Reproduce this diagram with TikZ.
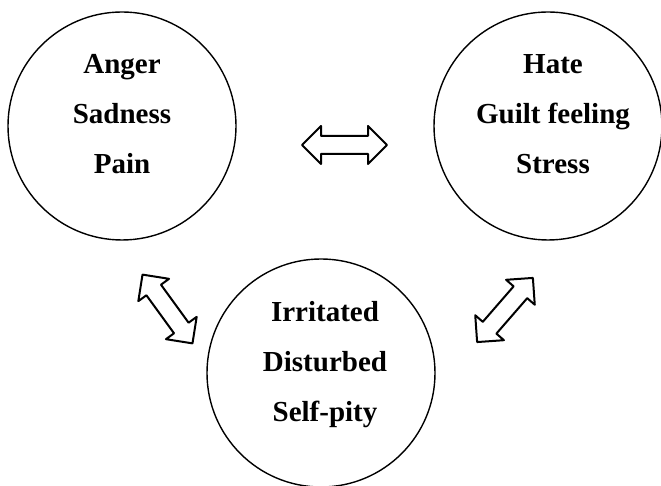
\documentclass[tikz,border=0pt]{standalone}
\usepackage{fontspec}
\setmainfont{Liberation Serif}
\usepackage{tikz}
\usetikzlibrary{shapes.arrows}

\begin{document}
\begin{tikzpicture}[
                x=1pt,
                y=1pt,
                line cap=round,
                line join=round,
                mood/.style={circle, draw, line width=1.4pt, minimum size=228pt, inner sep=0pt},
                words/.style={align=center, inner sep=0pt, font=\bfseries\fontsize{29}{50}\selectfont},
                twoway/.style={double arrow, draw, line width=2pt, fill=white,
                    inner xsep=0pt, inner ysep=8pt, minimum height=85pt,
                    double arrow head extend=10pt}
            ]

            \useasboundingbox (0,0) rectangle (661,486);

            \node[mood] (anger) at (122,360) {};
            \node[mood] (hate) at (548,360) {};
            \node[mood] (irritated) at (321,113) {};

            \node[words] (angertext) at ([yshift=12pt]anger.center) {Anger\\Sadness\\Pain};
            \node[words] (hatetext) at ([xshift=5pt, yshift=12pt]hate.center) {Hate\\Guilt feeling\\Stress};
            \node[words] (irritatedtext) at ([xshift=4pt, yshift=8pt]irritated.center) {Irritated\\Disturbed\\Self-pity};

            \foreach \name/\pos/\ang in {
                top/{(344.5,341)}/0,
                left/{(167.5,177)}/-54,
                right/{(505,176)}/49
            } {
                \node[twoway, rotate=\ang] (arrow\name) at \pos {};
            }

        \end{tikzpicture}
\end{document}
